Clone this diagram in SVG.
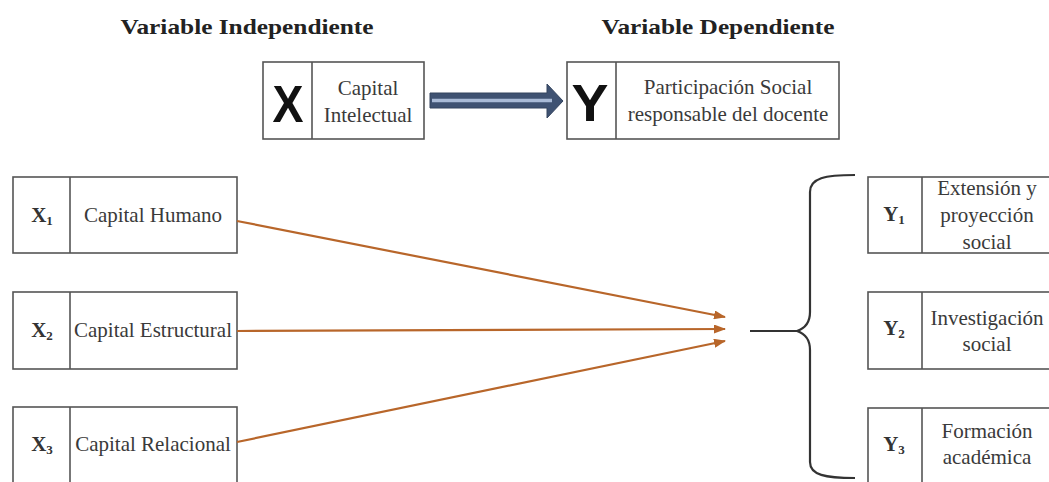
<svg xmlns="http://www.w3.org/2000/svg" width="1049" height="482" viewBox="0 0 1049 482">
<style>
.box{fill:#fff;stroke:#555;stroke-width:1.6}
.div{stroke:#555;stroke-width:1.6}
.t{font-family:"Liberation Serif","Times New Roman",serif;font-size:21px;fill:#3a3a3a;text-anchor:middle}
.title{font-family:"Liberation Serif","Times New Roman",serif;font-size:22px;font-weight:bold;fill:#222;text-anchor:middle}
.big{font-family:"Liberation Sans",Arial,sans-serif;font-size:52px;font-weight:bold;fill:#111;text-anchor:middle}
.v{font-family:"Liberation Serif","Times New Roman",serif;font-size:21px;font-weight:bold;fill:#333;text-anchor:middle}
.sub{font-size:13px}
.con{stroke:#b8662a;stroke-width:2.2;fill:none;marker-end:url(#ah)}
</style>
<defs>
<marker id="ah" markerWidth="12" markerHeight="9" refX="11" refY="4.5" orient="auto" markerUnits="userSpaceOnUse">
<path d="M0,0 L12,4.5 L0,9 Z" fill="#b8662a"/>
</marker>
</defs>
<rect width="1049" height="482" fill="#fff"/>
<text class="title" x="247" y="34" textLength="253" lengthAdjust="spacingAndGlyphs">Variable Independiente</text>
<text class="title" x="718" y="34" textLength="233" lengthAdjust="spacingAndGlyphs">Variable Dependiente</text>
<g id="nodeX">
<rect class="box" x="263" y="62" width="161" height="77"/>
<line class="div" x1="312" y1="62" x2="312" y2="139"/>
<text class="big" x="288" y="122" textLength="31" lengthAdjust="spacingAndGlyphs">X</text>
<text class="t" x="368" y="95">Capital</text>
<text class="t" x="368" y="122">Intelectual</text>
</g>
<g id="nodeY">
<rect class="box" x="567" y="62" width="272" height="77"/>
<line class="div" x1="616" y1="62" x2="616" y2="139"/>
<text class="big" x="590" y="121" textLength="37" lengthAdjust="spacingAndGlyphs">Y</text>
<text class="t" x="728" y="94">Participación Social</text>
<text class="t" x="728" y="121">responsable del docente</text>
</g>
<g id="nodeX1">
<rect class="box" x="13" y="177" width="224" height="76"/>
<line class="div" x1="70" y1="177" x2="70" y2="253"/>
<text class="v" x="42" y="222">X<tspan class="sub" dy="3">1</tspan></text>
<text class="t" x="153" y="222">Capital Humano</text>
</g>
<g id="nodeX2">
<rect class="box" x="13" y="292" width="224" height="77"/>
<line class="div" x1="70" y1="292" x2="70" y2="369"/>
<text class="v" x="42" y="337">X<tspan class="sub" dy="3">2</tspan></text>
<text class="t" x="153" y="337">Capital Estructural</text>
</g>
<g id="nodeX3">
<rect class="box" x="13" y="407" width="224" height="80"/>
<line class="div" x1="70" y1="407" x2="70" y2="487"/>
<text class="v" x="42" y="451">X<tspan class="sub" dy="3">3</tspan></text>
<text class="t" x="153" y="451">Capital Relacional</text>
</g>
<g id="nodeY1">
<rect class="box" x="868" y="177" width="182" height="76"/>
<line class="div" x1="922" y1="177" x2="922" y2="253"/>
<text class="v" x="894" y="221">Y<tspan class="sub" dy="3">1</tspan></text>
<text class="t" x="987" y="195">Extensión y</text>
<text class="t" x="987" y="222">proyección</text>
<text class="t" x="987" y="249">social</text>
</g>
<g id="nodeY2">
<rect class="box" x="868" y="292" width="182" height="77"/>
<line class="div" x1="922" y1="292" x2="922" y2="369"/>
<text class="v" x="894" y="335">Y<tspan class="sub" dy="3">2</tspan></text>
<text class="t" x="987" y="325">Investigación</text>
<text class="t" x="987" y="351">social</text>
</g>
<g id="nodeY3">
<rect class="box" x="868" y="408" width="182" height="80"/>
<line class="div" x1="922" y1="408" x2="922" y2="488"/>
<text class="v" x="894" y="451">Y<tspan class="sub" dy="3">3</tspan></text>
<text class="t" x="987" y="438">Formación</text>
<text class="t" x="987" y="464">académica</text>
</g>
<g id="connectors">
<path d="M430,93 H547 V84 L563,101 L547,118 V108 H430 Z" fill="#3f5272" stroke="#34445f" stroke-width="1"/>
<line x1="432" y1="100.5" x2="552" y2="100.5" stroke="#a9bad6" stroke-width="3.5"/>
<line class="con" x1="237" y1="221" x2="725" y2="317"/>
<line class="con" x1="237" y1="331" x2="725" y2="329"/>
<line class="con" x1="237" y1="442" x2="725" y2="341"/>
<line x1="750" y1="331" x2="797" y2="331" stroke="#333" stroke-width="2.2"/>
<path d="M855,175 C825,175 810,178 810,192 L810,312 C810,325 803,329 797,331 C803,333 810,337 810,350 L810,462 C810,475 825,478 855,478" fill="none" stroke="#333" stroke-width="2.2"/>
</g>
</svg>
